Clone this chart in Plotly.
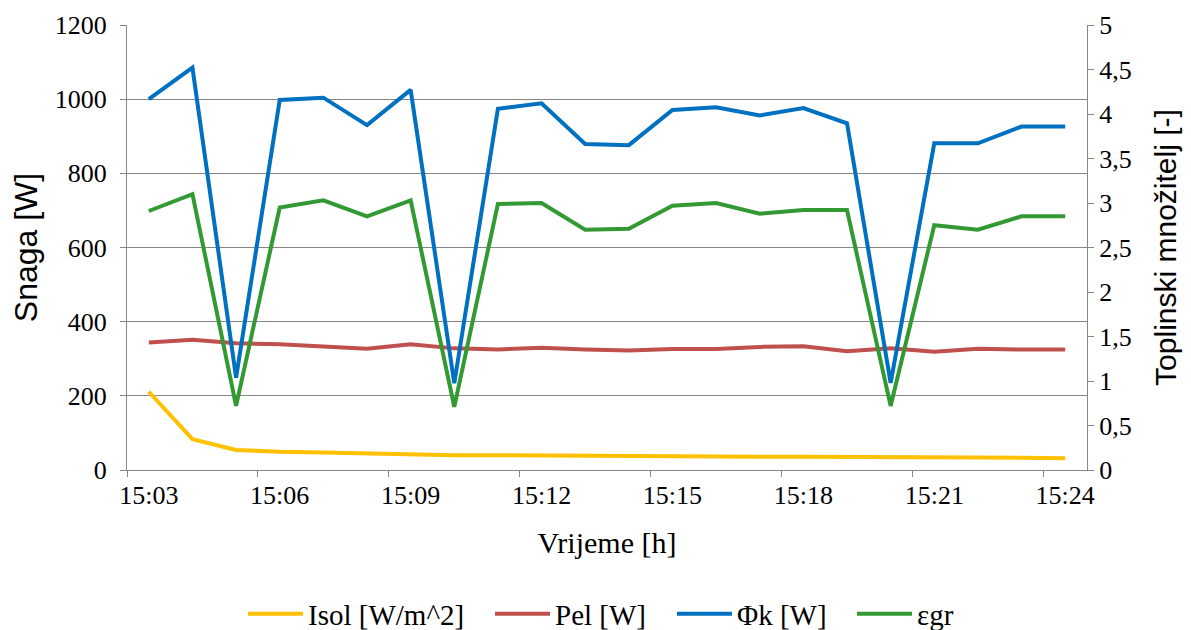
import plotly.graph_objects as go

# categories (one reading per minute)
vrijeme = ["15:03", "15:04", "15:05", "15:06", "15:07", "15:08", "15:09", "15:10",
           "15:11", "15:12", "15:13", "15:14", "15:15", "15:16", "15:17", "15:18",
           "15:19", "15:20", "15:21", "15:22", "15:23", "15:24"]

isol = [211, 83, 54, 49, 47, 44, 42, 40, 40, 39, 38, 38, 37, 37, 36, 36, 36, 35,
        35, 34, 33, 32]
pel = [344, 351, 342, 339, 333, 327, 339, 328, 325, 330, 325, 322, 326, 326, 332,
       334, 320, 328, 319, 327, 325, 325]
phi_k = [1000, 1085, 249, 998, 1004, 930, 1025, 234, 974, 989, 879, 876, 971, 978,
         956, 976, 935, 235, 881, 881, 926, 926]
eps_gr = [2.91, 3.10, 0.72, 2.95, 3.03, 2.85, 3.03, 0.71, 2.99, 3.00, 2.70, 2.71,
          2.97, 3.00, 2.88, 2.92, 2.92, 0.72, 2.75, 2.70, 2.85, 2.85]

right_ticks = [0, 0.5, 1, 1.5, 2, 2.5, 3, 3.5, 4, 4.5, 5]
right_labels = ["0", "0,5", "1", "1,5", "2", "2,5", "3", "3,5", "4", "4,5", "5"]

serif = "Times New Roman, Liberation Serif, DejaVu Serif, serif"
sans = "Arial, Liberation Sans, sans-serif"
gray = "#868686"

fig = go.Figure()
fig.add_trace(go.Scatter(x=vrijeme, y=isol, name="Isol [W/m^2]", mode="lines",
                         legendwidth=177,
                         line=dict(color="#FFC000", width=4)))
fig.add_trace(go.Scatter(x=vrijeme, y=pel, name="Pel [W]", mode="lines",
                         legendwidth=112,
                         line=dict(color="#C0504D", width=4)))
fig.add_trace(go.Scatter(x=vrijeme, y=phi_k, name="Φk [W]", mode="lines",
                         legendwidth=110,
                         line=dict(color="#0070C0", width=4)))
fig.add_trace(go.Scatter(x=vrijeme, y=eps_gr, name="εgr", mode="lines", yaxis="y2",
                         line=dict(color="#339933", width=4)))

# the page body adds an 8px margin, so the figure starts at (8, 8) in the window
fig.update_layout(
    width=1175,
    height=622,
    margin=dict(l=119, r=96, t=17, b=160),
    plot_bgcolor="white",
    paper_bgcolor="white",
    font=dict(family=serif, size=26, color="black"),
    showlegend=True,
    legend=dict(
        orientation="h",
        xref="container", yref="container",
        x=0.2, xanchor="left",
        y=0.026, yanchor="middle",
        font=dict(family=serif, size=29, color="black"),
        itemwidth=55,
    ),
    xaxis=dict(
        type="category",
        range=[-0.5, 21.5],
        tickmode="linear", tick0=0, dtick=3,
        tickson="boundaries",
        tickangle=0,
        automargin=False,
        ticks="outside", ticklen=6, tickcolor=gray,
        ticklabelstandoff=2,
        showgrid=False,
        showline=True, linecolor=gray, linewidth=1,
        title=dict(text="Vrijeme [h]", font=dict(family=serif, size=30), standoff=22),
    ),
    yaxis=dict(
        range=[0, 1200], dtick=200,
        automargin=False,
        ticks="outside", ticklen=6, tickcolor=gray,
        ticklabelstandoff=8,
        showgrid=True, gridcolor=gray, gridwidth=1,
        showline=True, linecolor=gray, linewidth=1,
        zeroline=False,
        title=dict(text="Snaga [W]", font=dict(family=sans, size=32), standoff=8),
    ),
    yaxis2=dict(
        overlaying="y", side="right",
        range=[0, 5],
        automargin=False,
        tickmode="array", tickvals=right_ticks, ticktext=right_labels,
        ticks="outside", ticklen=6, tickcolor=gray,
        showgrid=False,
        showline=True, linecolor=gray, linewidth=1,
        zeroline=False,
        title=dict(text="Toplinski množitelj [-]", font=dict(family=sans, size=30), standoff=24),
    ),
)

fig.write_html("out.html")
